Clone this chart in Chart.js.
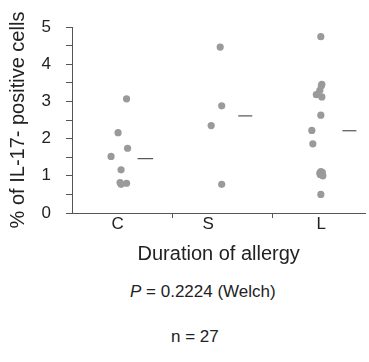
<!DOCTYPE html>
<html>
<head>
<meta charset="utf-8">
<script src="https://cdn.jsdelivr.net/npm/chart.js@4/dist/chart.umd.min.js"></script>
<style>
  html, body { margin: 0; padding: 0; background: #fff; }
  body { width: 369px; height: 362px; position: relative; overflow: hidden;
         font-family: "Liberation Sans", Arial, sans-serif; color: #222; }
  .chart-box { position: absolute; left: 0; top: 0; width: 369px; height: 275px; }
  .note { position: absolute; font-size: 17px; line-height: 20px; white-space: nowrap; }
</style>
</head>
<body>
<div class="chart-box"><canvas id="chart"></canvas></div>
<div class="note" style="left:130px; top:282px;"><i>P</i> = 0.2224 (Welch)</div>
<div class="note" style="left:171px; top:327px;">n = 27</div>
<script>
// categories (duration of allergy)
const categories = ['C', 'S', 'L'];

// % of IL-17-positive cells
const valuesC = [3.07, 2.16, 1.74, 1.52, 1.16, 0.82, 0.77, 0.80];
const valuesS = [4.46, 2.88, 2.35, 0.77];
const valuesL = [4.74, 3.46, 3.42, 3.30, 3.18, 3.12, 2.63, 2.22, 1.86, 1.11, 1.09, 1.07, 1.03, 1.00, 0.50];

// horizontal scatter of each dot inside its group (fraction of group width)
const jitterC = [0.545, 0.46, 0.555, 0.39, 0.49, 0.48, 0.49, 0.545];
const jitterS = [0.48, 0.495, 0.39, 0.495];
const jitterL = [0.485, 0.495, 0.49, 0.475, 0.44, 0.495, 0.485, 0.395, 0.405, 0.485, 0.50, 0.475, 0.48, 0.505, 0.485];

// group mean bars
const groupMeans = [1.46, 2.61, 2.21];

// tick labels
const yTickValues = [0, 1, 2, 3, 4, 5];

const groupValues = [valuesC, valuesS, valuesL];
const groupJitter = [jitterC, jitterS, jitterL];

const axisColor = '#555';
const textColor = '#222';
const fontFamily = '"Liberation Sans", Arial, sans-serif';

// where the category names sit, and the divider ticks between groups
const labelPos = [0.455, 1.36, 2.49];
const dividerPos = [1, 2];
const meanStart = [0.655, 0.66, 0.70];
const meanEnd = [0.81, 0.80, 0.84];

const dots = [];
groupValues.forEach((vals, g) => {
  vals.forEach((v, i) => dots.push({ x: g + groupJitter[g][i], y: v }));
});

const meanSets = groupMeans.map((m, g) => ({
  type: 'line',
  data: [{ x: g + meanStart[g], y: m }, { x: g + meanEnd[g], y: m }],
  borderColor: '#333',
  borderWidth: 1,
  pointRadius: 0,
  fill: false
}));

new Chart(document.getElementById('chart'), {
  type: 'scatter',
  data: {
    datasets: [{
      data: dots,
      backgroundColor: '#9a9a9a',
      borderWidth: 0,
      pointRadius: 3.6,
      pointHoverRadius: 3.6
    }, ...meanSets]
  },
  options: {
    responsive: true,
    maintainAspectRatio: false,
    animation: false,
    layout: { padding: { left: 0, right: 3, top: 27, bottom: 0 } },
    plugins: { legend: { display: false }, tooltip: { enabled: false } },
    scales: {
      x: {
        type: 'linear',
        min: 0,
        max: 2.93,
        afterBuildTicks: scale => {
          scale.ticks = [...labelPos, ...dividerPos].sort((a, b) => a - b).map(v => ({ value: v }));
        },
        afterFit: scale => { scale.height = 62; },
        ticks: {
          autoSkip: false,
          maxRotation: 0,
          padding: -2,
          color: textColor,
          font: { family: fontFamily, size: 17, lineHeight: 1 },
          callback: v => {
            const idx = labelPos.indexOf(v);
            return idx >= 0 ? categories[idx] : '';
          }
        },
        grid: {
          drawOnChartArea: false,
          tickLength: 5,
          tickColor: ctx => (ctx.tick && dividerPos.includes(ctx.tick.value)) ? axisColor : 'rgba(0,0,0,0)'
        },
        border: { color: axisColor, width: 1 },
        title: {
          display: true,
          text: 'Duration of allergy',
          color: textColor,
          font: { family: fontFamily, size: 20 },
          padding: { top: 0, bottom: 9 }
        }
      },
      y: {
        min: 0,
        max: 5,
        afterFit: scale => { scale.width = 72; },
        ticks: {
          stepSize: 0.5,
          autoSkip: false,
          padding: 15,
          color: textColor,
          font: { family: fontFamily, size: 17 },
          callback: v => yTickValues.includes(v) ? v : ''
        },
        grid: { drawOnChartArea: false, tickLength: 6, tickColor: axisColor },
        border: { color: axisColor, width: 1 },
        title: {
          display: true,
          text: '% of IL-17- positive cells',
          color: textColor,
          font: { family: fontFamily, size: 20 },
          padding: { top: 6, bottom: 0 }
        }
      }
    }
  }
});
</script>
</body>
</html>
